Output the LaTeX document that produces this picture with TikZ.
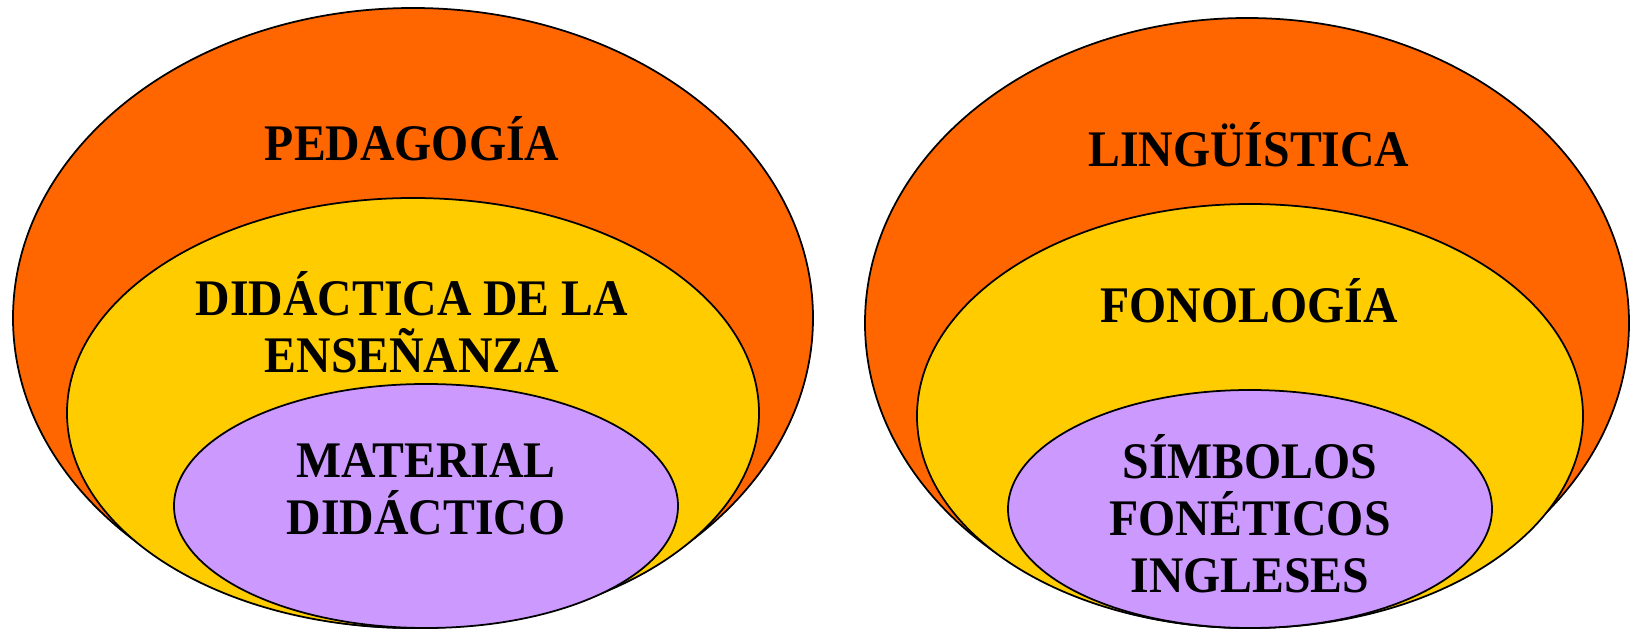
\documentclass[tikz,border=0pt]{standalone}
\usepackage{fontspec}
\usepackage{tikz}
\newfontfamily\lblfont[FakeStretch=0.93]{Liberation Serif}
\definecolor{naranja}{HTML}{FF6600}
\definecolor{amarillo}{HTML}{FFCC00}
\definecolor{lila}{HTML}{CC99FF}

\begin{document}
\begin{tikzpicture}[lbl/.style={font=\lblfont\bfseries\fontsize{14.6}{16.2}\selectfont, align=center}]

  \useasboundingbox (0, 0) rectangle (16.3, 6.29);

  % left set
  \filldraw[fill=naranja, line width=0.5pt] (4.13, 3.11) ellipse (4.00 and 3.10);
  \filldraw[fill=amarillo, line width=0.5pt] (4.13, 2.16) ellipse (3.46 and 2.15);
  \filldraw[fill=lila, line width=0.5pt] (4.26, 1.23) ellipse (2.52 and 1.22);

  % right set
  \filldraw[fill=naranja, line width=0.5pt] (12.47, 3.06) ellipse (3.82 and 3.05);
  \filldraw[fill=amarillo, line width=0.5pt] (12.50, 2.13) ellipse (3.33 and 2.12);
  \filldraw[fill=lila, line width=0.5pt] (12.50, 1.20) ellipse (2.42 and 1.19);

  \node[lbl] (p) at (4.12, 4.90) {PEDAGOGÍA};
  \node[lbl] (d) at (4.12, 3.07) {DIDÁCTICA DE LA\\ENSEÑANZA};
  \node[lbl] (m) at (4.26, 1.40) {MATERIAL\\DIDÁCTICO};
  \node[lbl] (l) at (12.49, 4.84) {LINGÜÍSTICA};
  \node[lbl] (f) at (12.49, 3.28) {FONOLOGÍA};
  \node[lbl] (s) at (12.50, 1.15) {SÍMBOLOS\\FONÉTICOS\\INGLESES};

\end{tikzpicture}
\end{document}
